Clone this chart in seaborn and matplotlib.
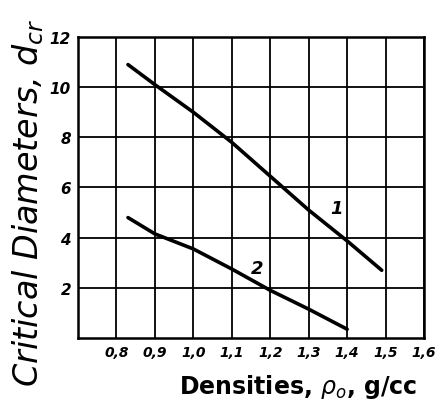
import matplotlib
matplotlib.use("Agg")
import matplotlib.pyplot as plt
import seaborn as sns
import pandas as pd

# Critical diameter vs. charge density, two compositions
density_1 = [0.83, 0.9, 1.0, 1.1, 1.2, 1.3, 1.4, 1.49]
diameter_1 = [10.9, 10.1, 9.0, 7.8, 6.45, 5.1, 3.87, 2.7]
density_2 = [0.83, 0.9, 1.0, 1.1, 1.2, 1.3, 1.4]
diameter_2 = [4.8, 4.15, 3.55, 2.75, 1.9, 1.15, 0.35]
curve_labels = ["1", "2"]

x_ticks = [0.8, 0.9, 1.0, 1.1, 1.2, 1.3, 1.4, 1.5, 1.6]
x_tick_labels = ["0,8", "0,9", "1,0", "1,1", "1,2", "1,3", "1,4", "1,5", "1,6"]
y_ticks = [2, 4, 6, 8, 10, 12]

df = pd.concat([
    pd.DataFrame({"density": density_1, "diameter": diameter_1, "curve": curve_labels[0]}),
    pd.DataFrame({"density": density_2, "diameter": diameter_2, "curve": curve_labels[1]}),
])

sns.set_style("white")
plt.rcParams["font.family"] = ["DejaVu Sans"]
plt.rcParams["text.color"] = "black"
plt.rcParams["xtick.color"] = "black"
plt.rcParams["ytick.color"] = "black"
plt.rcParams["axes.labelcolor"] = "black"

fig = plt.figure(figsize=(4.44, 4.10), dpi=100)
ax = fig.add_axes([0.1757, 0.1732, 0.7793, 0.7341])

sns.lineplot(data=df, x="density", y="diameter", hue="curve",
             palette={"1": "black", "2": "black"}, linewidth=2.6,
             legend=False, ax=ax, sort=False)

ax.set_xlim(0.7, 1.6)
ax.set_ylim(0, 12)
ax.set_xticks(x_ticks)
ax.set_xticklabels(x_tick_labels, fontsize=10, style="italic", weight="semibold")
ax.set_yticks(y_ticks)
ax.set_yticklabels([str(v) for v in y_ticks], fontsize=11, style="italic", weight="semibold")
ax.tick_params(length=0, pad=5)
ax.set_xlabel("")
ax.set_ylabel("")

ax.grid(True, color="black", linewidth=1.3)
for s in ax.spines.values():
    s.set_color("black")
    s.set_linewidth(1.8)

ax.text(1.356, 5.0, "1", fontsize=13, style="italic", weight="semibold")
ax.text(1.15, 2.6, "2", fontsize=13, style="italic", weight="semibold")

fig.text(0.94, 0.055, r"Densities, $\rho_o$, g/cc", fontsize=17, weight="bold",
         ha="right", va="center")
fig.text(0.063, 0.505, r"Critical Diameters, $d_{cr}$", fontsize=24, style="italic",
         rotation=90, ha="center", va="center")

fig.savefig("out.png", dpi=100)
